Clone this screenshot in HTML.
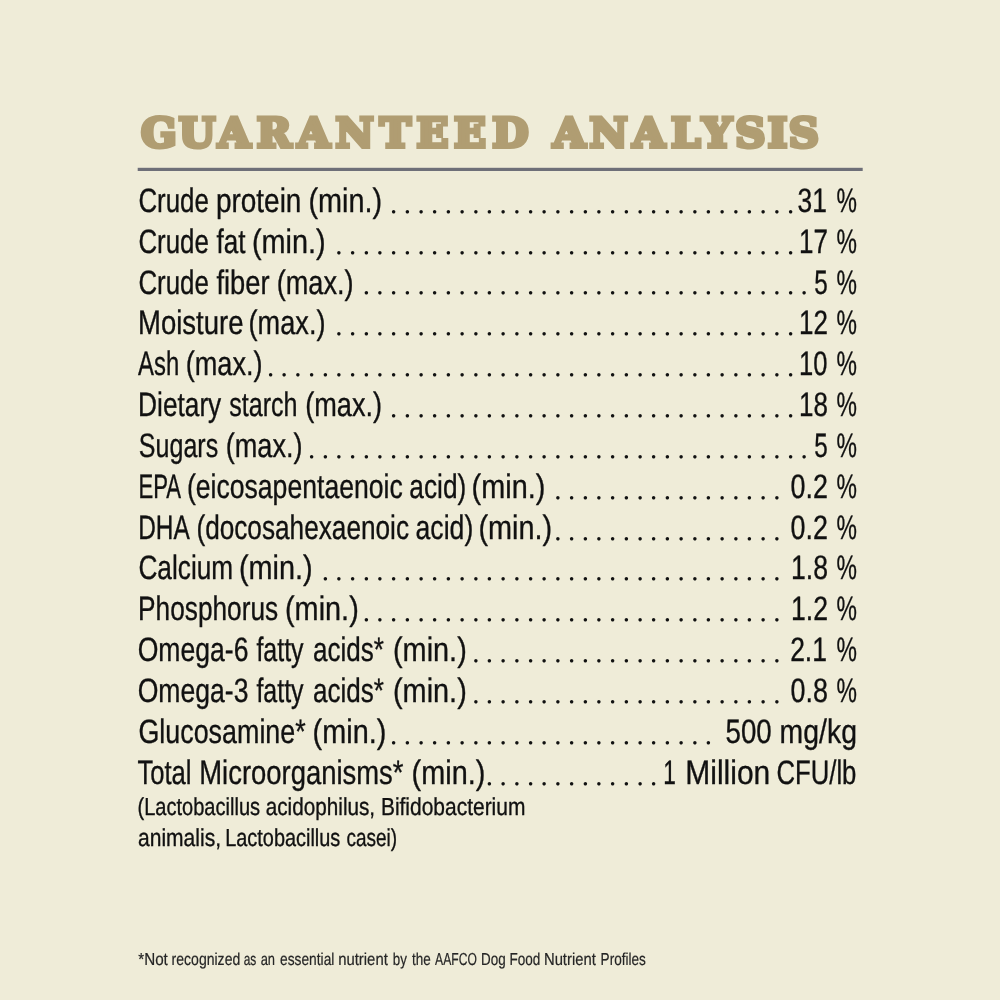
<!DOCTYPE html>
<html lang="en"><head><meta charset="utf-8"><title>Guaranteed Analysis</title>
<style>
html,body{margin:0;padding:0;background:#efecd8;}
body{width:1000px;height:1000px;overflow:hidden;}
svg{display:block}
text{font-family:"Liberation Sans",sans-serif;fill:#111111;stroke:#111111;stroke-linejoin:round;white-space:pre;text-rendering:geometricPrecision}
.b{font-size:33.8px;stroke-width:0.35px}
.s{font-size:24.6px;stroke-width:0.35px}
.f{font-size:17.3px;stroke-width:0.2px;fill:#262626;stroke:#262626}
.d{font-family:"Liberation Serif",serif;font-size:29px;stroke:none}
.t{font-family:"DejaVu Serif",serif;font-weight:bold;font-size:40.6px;fill:#b09d72;stroke:#b09d72;stroke-width:4.0px;stroke-linejoin:miter}
</style></head><body>
<svg width="1000" height="1000" viewBox="0 0 1000 1000">
<rect width="1000" height="1000" fill="#efecd8"/>
<text class="t" transform="translate(0 147.35) scale(1.03 1.0)" x="136.90 173.55 211.69 249.40 288.75 325.66 368.59 404.36 440.77 477.99 507.99 536.93 572.26 614.00 651.35 681.53 713.85 745.34 765.80" y="0">GUARANTEED ANALYSIS</text>
<rect x="137.7" y="167.8" width="725" height="3.2" fill="#6e6f78"/>
<g><text class="b" transform="translate(138.42 211.80) scale(0.7658 1)">Crude</text> <text class="b" transform="translate(215.90 211.80) scale(0.8276 1)">protein</text> <text class="b" transform="translate(308.40 211.80) scale(0.8539 1)">(min.)</text>
<text class="d" transform="translate(0 212.70) scale(0.999 1)" x="390.45 404.15 417.85 431.55 445.25 458.95 472.65 486.34 500.04 513.74 527.44 541.14 554.84 568.54 582.24 595.93 609.63 623.33 637.03 650.73 664.43 678.13 691.83 705.52 719.22 732.92 746.62 760.32 774.02 787.72">..............................</text>
<text class="b" transform="translate(797.61 211.80) scale(0.7798 1)">31</text> <text class="b" transform="translate(836.40 211.80) scale(0.6792 1)">%</text></g>
<g><text class="b" transform="translate(138.42 252.65) scale(0.7658 1)">Crude</text> <text class="b" transform="translate(216.39 252.65) scale(0.7715 1)">fat</text> <text class="b" transform="translate(251.90 252.65) scale(0.8539 1)">(min.)</text>
<text class="d" transform="translate(0 253.55) scale(0.999 1)" x="335.66 349.36 363.06 376.76 390.45 404.15 417.85 431.55 445.25 458.95 472.65 486.34 500.04 513.74 527.44 541.14 554.84 568.54 582.24 595.93 609.63 623.33 637.03 650.73 664.43 678.13 691.83 705.52 719.22 732.92 746.62 760.32 774.02 787.72">..................................</text>
<text class="b" transform="translate(799.01 252.65) scale(0.7689 1)">17</text> <text class="b" transform="translate(836.40 252.65) scale(0.6792 1)">%</text></g>
<g><text class="b" transform="translate(138.42 293.50) scale(0.7658 1)">Crude</text> <text class="b" transform="translate(216.39 293.50) scale(0.8076 1)">fiber</text> <text class="b" transform="translate(276.67 293.50) scale(0.8030 1)">(max.)</text>
<text class="d" transform="translate(0 294.40) scale(0.999 1)" x="363.06 376.76 390.45 404.15 417.85 431.55 445.25 458.95 472.65 486.34 500.04 513.74 527.44 541.14 554.84 568.54 582.24 595.93 609.63 623.33 637.03 650.73 664.43 678.13 691.83 705.52 719.22 732.92 746.62 760.32 774.02 787.72 801.42">.................................</text>
<text class="b" transform="translate(814.37 293.50) scale(0.7176 1)">5</text> <text class="b" transform="translate(836.40 293.50) scale(0.6792 1)">%</text></g>
<g><text class="b" transform="translate(137.99 334.35) scale(0.8138 1)">Moisture</text> <text class="b" transform="translate(248.57 334.35) scale(0.8030 1)">(max.)</text>
<text class="d" transform="translate(0 335.25) scale(0.999 1)" x="335.66 349.36 363.06 376.76 390.45 404.15 417.85 431.55 445.25 458.95 472.65 486.34 500.04 513.74 527.44 541.14 554.84 568.54 582.24 595.93 609.63 623.33 637.03 650.73 664.43 678.13 691.83 705.52 719.22 732.92 746.62 760.32 774.02 787.72">..................................</text>
<text class="b" transform="translate(799.01 334.35) scale(0.7689 1)">12</text> <text class="b" transform="translate(836.40 334.35) scale(0.6792 1)">%</text></g>
<g><text class="b" transform="translate(138.12 375.20) scale(0.7055 1)">Ash</text> <text class="b" transform="translate(185.67 375.20) scale(0.8030 1)">(max.)</text>
<text class="d" transform="translate(0 376.10) scale(0.999 1)" x="267.17 280.86 294.56 308.26 321.96 335.66 349.36 363.06 376.76 390.45 404.15 417.85 431.55 445.25 458.95 472.65 486.34 500.04 513.74 527.44 541.14 554.84 568.54 582.24 595.93 609.63 623.33 637.03 650.73 664.43 678.13 691.83 705.52 719.22 732.92 746.62 760.32 774.02 787.72">.......................................</text>
<text class="b" transform="translate(799.03 375.20) scale(0.7573 1)">10</text> <text class="b" transform="translate(836.40 375.20) scale(0.6792 1)">%</text></g>
<g><text class="b" transform="translate(138.08 416.05) scale(0.7769 1)">Dietary</text> <text class="b" transform="translate(229.24 416.05) scale(0.7419 1)">starch</text> <text class="b" transform="translate(305.17 416.05) scale(0.8030 1)">(max.)</text>
<text class="d" transform="translate(0 416.95) scale(0.999 1)" x="390.45 404.15 417.85 431.55 445.25 458.95 472.65 486.34 500.04 513.74 527.44 541.14 554.84 568.54 582.24 595.93 609.63 623.33 637.03 650.73 664.43 678.13 691.83 705.52 719.22 732.92 746.62 760.32 774.02 787.72">..............................</text>
<text class="b" transform="translate(799.01 416.05) scale(0.7689 1)">18</text> <text class="b" transform="translate(836.40 416.05) scale(0.6792 1)">%</text></g>
<g><text class="b" transform="translate(138.85 456.90) scale(0.7405 1)">Sugars</text> <text class="b" transform="translate(225.67 456.90) scale(0.8030 1)">(max.)</text>
<text class="d" transform="translate(0 457.80) scale(0.999 1)" x="308.26 321.96 335.66 349.36 363.06 376.76 390.45 404.15 417.85 431.55 445.25 458.95 472.65 486.34 500.04 513.74 527.44 541.14 554.84 568.54 582.24 595.93 609.63 623.33 637.03 650.73 664.43 678.13 691.83 705.52 719.22 732.92 746.62 760.32 774.02 787.72 801.42">.....................................</text>
<text class="b" transform="translate(814.37 456.90) scale(0.7176 1)">5</text> <text class="b" transform="translate(836.40 456.90) scale(0.6792 1)">%</text></g>
<g><text class="b" transform="translate(138.39 497.75) scale(0.6548 1)">EPA</text> <text class="b" transform="translate(186.89 497.75) scale(0.7869 1)">(eicosapentaenoic</text> <text class="b" transform="translate(409.32 497.75) scale(0.7768 1)">acid)</text> <text class="b" transform="translate(471.60 497.75) scale(0.8539 1)">(min.)</text>
<text class="d" transform="translate(0 498.65) scale(0.999 1)" x="554.84 568.54 582.24 595.93 609.63 623.33 637.03 650.73 664.43 678.13 691.83 705.52 719.22 732.92 746.62 760.32 774.02">.................</text>
<text class="b" transform="translate(790.55 497.75) scale(0.7960 1)">0.2</text> <text class="b" transform="translate(836.40 497.75) scale(0.6792 1)">%</text></g>
<g><text class="b" transform="translate(138.22 538.60) scale(0.7222 1)">DHA</text> <text class="b" transform="translate(196.41 538.60) scale(0.7750 1)">(docosahexaenoic</text> <text class="b" transform="translate(415.56 538.60) scale(0.7874 1)">acid)</text> <text class="b" transform="translate(478.40 538.60) scale(0.8539 1)">(min.)</text>
<text class="d" transform="translate(0 539.50) scale(0.999 1)" x="554.84 568.54 582.24 595.93 609.63 623.33 637.03 650.73 664.43 678.13 691.83 705.52 719.22 732.92 746.62 760.32 774.02">.................</text>
<text class="b" transform="translate(790.55 538.60) scale(0.7960 1)">0.2</text> <text class="b" transform="translate(836.40 538.60) scale(0.6792 1)">%</text></g>
<g><text class="b" transform="translate(138.41 579.45) scale(0.7767 1)">Calcium</text> <text class="b" transform="translate(238.90 579.45) scale(0.8539 1)">(min.)</text>
<text class="d" transform="translate(0 580.35) scale(0.999 1)" x="321.96 335.66 349.36 363.06 376.76 390.45 404.15 417.85 431.55 445.25 458.95 472.65 486.34 500.04 513.74 527.44 541.14 554.84 568.54 582.24 595.93 609.63 623.33 637.03 650.73 664.43 678.13 691.83 705.52 719.22 732.92 746.62 760.32 774.02">..................................</text>
<text class="b" transform="translate(790.98 579.45) scale(0.7867 1)">1.8</text> <text class="b" transform="translate(836.40 579.45) scale(0.6792 1)">%</text></g>
<g><text class="b" transform="translate(138.09 620.30) scale(0.7767 1)">Phosphorus</text> <text class="b" transform="translate(285.00 620.30) scale(0.8539 1)">(min.)</text>
<text class="d" transform="translate(0 621.20) scale(0.999 1)" x="363.06 376.76 390.45 404.15 417.85 431.55 445.25 458.95 472.65 486.34 500.04 513.74 527.44 541.14 554.84 568.54 582.24 595.93 609.63 623.33 637.03 650.73 664.43 678.13 691.83 705.52 719.22 732.92 746.62 760.32 774.02">...............................</text>
<text class="b" transform="translate(790.98 620.30) scale(0.7867 1)">1.2</text> <text class="b" transform="translate(836.40 620.30) scale(0.6792 1)">%</text></g>
<g><text class="b" transform="translate(137.64 661.15) scale(0.7864 1)">Omega-6</text> <text class="b" transform="translate(256.38 661.15) scale(0.7396 1)">fatty</text> <text class="b" transform="translate(313.07 661.15) scale(0.7703 1)">acids*</text> <text class="b" transform="translate(393.00 661.15) scale(0.8539 1)">(min.)</text>
<text class="d" transform="translate(0 662.05) scale(0.999 1)" x="472.65 486.34 500.04 513.74 527.44 541.14 554.84 568.54 582.24 595.93 609.63 623.33 637.03 650.73 664.43 678.13 691.83 705.52 719.22 732.92 746.62 760.32 774.02">.......................</text>
<text class="b" transform="translate(790.15 661.15) scale(0.7830 1)">2.1</text> <text class="b" transform="translate(836.40 661.15) scale(0.6792 1)">%</text></g>
<g><text class="b" transform="translate(137.64 702.00) scale(0.7864 1)">Omega-3</text> <text class="b" transform="translate(256.38 702.00) scale(0.7396 1)">fatty</text> <text class="b" transform="translate(313.07 702.00) scale(0.7703 1)">acids*</text> <text class="b" transform="translate(393.00 702.00) scale(0.8539 1)">(min.)</text>
<text class="d" transform="translate(0 702.90) scale(0.999 1)" x="472.65 486.34 500.04 513.74 527.44 541.14 554.84 568.54 582.24 595.93 609.63 623.33 637.03 650.73 664.43 678.13 691.83 705.52 719.22 732.92 746.62 760.32 774.02">.......................</text>
<text class="b" transform="translate(790.55 702.00) scale(0.7960 1)">0.8</text> <text class="b" transform="translate(836.40 702.00) scale(0.6792 1)">%</text></g>
<g><text class="b" transform="translate(138.38 742.85) scale(0.7954 1)">Glucosamine*</text> <text class="b" transform="translate(312.60 742.85) scale(0.8539 1)">(min.)</text>
<text class="d" transform="translate(0 743.75) scale(0.999 1)" x="390.45 404.15 417.85 431.55 445.25 458.95 472.65 486.34 500.04 513.74 527.44 541.14 554.84 568.54 582.24 595.93 609.63 623.33 637.03 650.73 664.43 678.13 691.83 705.52">........................</text>
<text class="b" transform="translate(725.53 742.85) scale(0.8205 1)">500</text> <text class="b" transform="translate(779.62 742.85) scale(0.8401 1)">mg/kg</text></g>
<g><text class="b" transform="translate(137.43 783.70) scale(0.7581 1)">Total</text> <text class="b" transform="translate(199.25 783.70) scale(0.8113 1)">Microorganisms*</text> <text class="b" transform="translate(411.60 783.70) scale(0.8539 1)">(min.)</text>
<text class="d" transform="translate(0 784.60) scale(0.999 1)" x="486.34 500.04 513.74 527.44 541.14 554.84 568.54 582.24 595.93 609.63 623.33 637.03 650.73">.............</text>
<text class="b" transform="translate(663.20 783.70) scale(0.6703 1)">1</text> <text class="b" transform="translate(685.31 783.70) scale(0.8870 1)">Million</text> <text class="b" transform="translate(776.43 783.70) scale(0.7605 1)">CFU/lb</text></g>
<g><text class="s" transform="translate(137.50 815.00) scale(0.8150 1)">(Lactobacillus</text> <text class="s" transform="translate(265.75 815.00) scale(0.8421 1)">acidophilus,</text> <text class="s" transform="translate(380.91 815.00) scale(0.8524 1)">Bifidobacterium</text></g>
<g><text class="s" transform="translate(137.99 845.60) scale(0.8554 1)">animalis,</text> <text class="s" transform="translate(225.19 845.60) scale(0.8093 1)">Lactobacillus</text> <text class="s" transform="translate(346.54 845.60) scale(0.7704 1)">casei)</text></g>
<g><text class="f" transform="translate(138.25 965.40) scale(0.8799 1)">*Not</text> <text class="f" transform="translate(171.60 965.40) scale(0.8118 1)">recognized</text> <text class="f" transform="translate(243.70 965.40) scale(0.6901 1)">as</text> <text class="f" transform="translate(260.67 965.40) scale(0.7473 1)">an</text> <text class="f" transform="translate(280.05 965.40) scale(0.7965 1)">essential</text> <text class="f" transform="translate(338.15 965.40) scale(0.8615 1)">nutrient</text> <text class="f" transform="translate(392.84 965.40) scale(0.7706 1)">by</text> <text class="f" transform="translate(412.08 965.40) scale(0.7814 1)">the</text> <text class="f" transform="translate(435.07 965.40) scale(0.7012 1)">AAFCO</text> <text class="f" transform="translate(481.03 965.40) scale(0.7767 1)">Dog</text> <text class="f" transform="translate(509.42 965.40) scale(0.7827 1)">Food</text> <text class="f" transform="translate(543.93 965.40) scale(0.8574 1)">Nutrient</text> <text class="f" transform="translate(600.62 965.40) scale(0.7858 1)">Profiles</text></g>
</svg>
</body></html>
